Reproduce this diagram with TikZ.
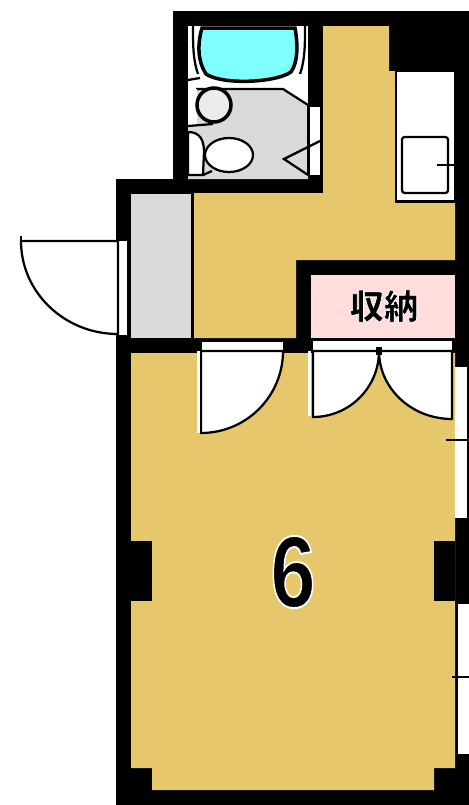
\documentclass[tikz,border=0pt]{standalone}
\usepackage{fontspec}
\newfontfamily\cjk{Noto Sans CJK JP}
\newfontfamily\digitfont{Liberation Sans}
\newcommand{\halotext}[2]{\special{pdf:code 2 Tr 1 1 1 RG #1 w}#2\special{pdf:code 0 Tr}}
\tikzset{
  wall/.style={fill=black,draw=none},
  plan/.style={draw=black,line width=0.045cm},
  heavy/.style={draw=black,line width=0.07cm},
  leaf/.style={plan,fill=white},
}
\definecolor{floortan}{HTML}{E6C76C}
\definecolor{tubcyan}{HTML}{80FFFF}
\definecolor{bathgrey}{HTML}{DADADA}
\definecolor{closetpink}{HTML}{FFDDDD}
\begin{document}
\begin{tikzpicture}[x=0.02cm,y=-0.02cm]
                    \useasboundingbox (0,0) rectangle (469,805);
                    % walls as one black mass, rooms on top
                    \fill[wall] (173,11)--(469,11)--(469,805)--(116,805)--(116,179)--(173,179)--cycle;
                    \fill[floortan] (323,26)--(389,26)--(389,71)--(395,71)--(395,203)--(455,203)--(455,260)--(296,260)--(296,338)--(194,338)--(194,193)--(323,193)--cycle;
                    \fill[floortan] (131,353)--(455,353)--(455,768)--(434,768)--(434,790)--(152,790)--(152,768)--(131,768)--cycle;
                    \fill[wall] (131,541) rectangle (152,601);
                    \fill[wall] (434,541) rectangle (455,601);
                    \fill[bathgrey] (131,194) rectangle (192,338);
                    \fill[closetpink] (311,275) rectangle (455,338);
                    % bath
                    \fill[white] (188,26) rectangle (308,179);
                    \fill[bathgrey] (188,89)--(283,89)--(308,105)--(308,179)--(188,179)--cycle;
                    \filldraw[heavy,fill=tubcyan] (202,28)--(295,28) .. controls (298,45) and (298,62) .. (291,72) .. controls (275,83) and (222,85) .. (206,74) .. controls (198,62) and (197,45) .. (202,28)--cycle;
                    \draw[plan] (193,26) .. controls (193,45) and (193,60) .. (198,74);
                    \draw[plan] (305,26) .. controls (305,45) and (305,60) .. (300,74);
                    \draw[plan] (188,80)--(200,78);
                    \draw[plan] (196,89)--(283,89)--(308,105);
                    \fill[white] (188,89) rectangle (197,125);
                    \filldraw[heavy,fill=black!8] (214,105) circle (17);
                    \draw[plan] (188,126)--(213,124);
                    \filldraw[plan,fill=white] (188,132) .. controls (200,132) and (204,140) .. (204,152) -- (203,175)--(188,175)--cycle;
                    \filldraw[plan,fill=white] (229,155) ellipse [x radius=24,y radius=17];
                    \draw[plan] (203,175)--(212,171);
                    \fill[white] (310,107) rectangle (320,175);
                    \draw[plan] (308,105)--(308,175);
                    \draw[plan] (308,175)--(284,159)--(320,141);
                    % kitchen
                    \filldraw[plan,fill=white] (396,71)--(455,71)--(455,201)--(396,201)--cycle;
                    \fill[wall] (455,71) rectangle (469,203);
                    \draw[plan,rounded corners=1.5] (402,137) rectangle (448,193);
                    \draw[plan] (437,165)--(455,165);
                    % entrance
                    \draw[plan] (192,194)--(192,338);
                    \fill[white] (118,241) rectangle (128,335);
                    \draw[plan] (128,241)--(128,335);
                    \filldraw[leaf] (118,241)--(21,241) arc [start angle=180,end angle=90,x radius=97,y radius=93]--cycle;
                    \draw[plan] (21,236)--(21,246);
                    % room door
                    \fill[white] (202,342) rectangle (283,351);
                    \filldraw[leaf] (201,351)--(201,433) arc [start angle=90,end angle=0,radius=82]--cycle;
                    \fill[white] (197,351) rectangle (200,433);
                    % closet doors
                    \fill[white] (313,341) rectangle (452,351);
                    \filldraw[leaf] (313,351)--(313,417) arc [start angle=90,end angle=0,radius=66]--cycle;
                    \filldraw[leaf] (452,351)--(379,351) arc [start angle=180,end angle=90,x radius=73,y radius=68]--cycle;
                    \fill[white] (308,351) rectangle (311,416);
                    \fill[black] (376,347) rectangle (382,355);
                    % windows
                    \foreach \a/\b/\c/\e/\t/\l in {455/367/467/518/440/446,458/604/469/754/677/452}{
                    \fill[white] (\a,\b) rectangle (\c,\e);
                    \draw[plan] (\l,\t)--(469,\t);
                    }
                    \node (closet) at (384,306) {\fontsize{19.5}{20}\selectfont\cjk\bfseries\halotext{0.4}{収納}};
                    \node[xscale=0.8] (rooma) at (293,572) {\fontsize{58}{60}\selectfont\digitfont\bfseries\halotext{1.1}{6}};
                    \end{tikzpicture}
\end{document}
